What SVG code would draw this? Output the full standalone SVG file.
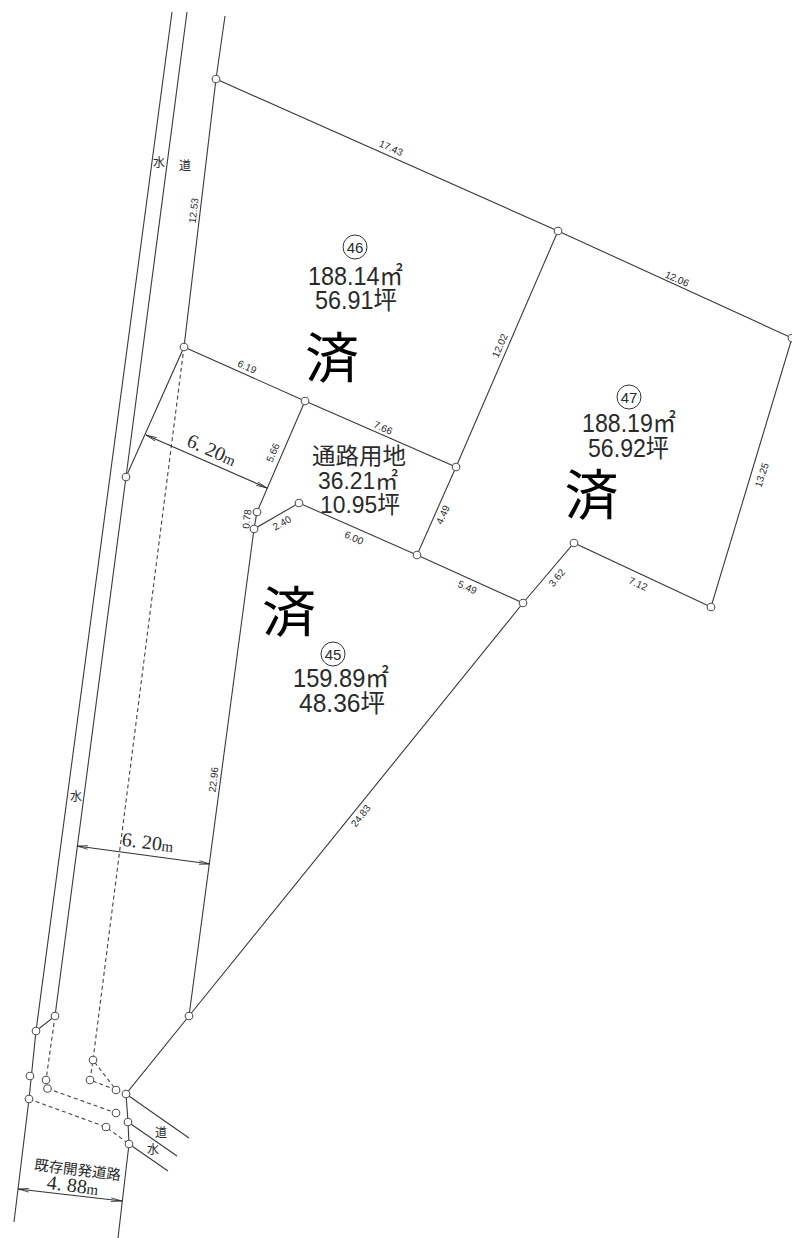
<svg xmlns="http://www.w3.org/2000/svg" width="792" height="1238" viewBox="0 0 792 1238">
<style>
.l{fill:none;stroke:#3a3a3a;stroke-width:1.1}
.d{fill:none;stroke:#444;stroke-width:1.1;stroke-dasharray:4 3}
.a{fill:none;stroke:#333;stroke-width:1.1;marker-start:url(#as);marker-end:url(#ae)}
.n{fill:#fff;stroke:#555;stroke-width:1.1}
.o{fill:none;stroke:#333;stroke-width:1}
text{font-family:"Liberation Sans","Noto Sans CJK JP",sans-serif;fill:#2a2a2a;text-anchor:middle}
.s{font-size:10px}
.k{font-size:12px;font-family:"Noto Sans CJK JP",sans-serif}
.b{font-size:25px}
.c{font-size:15px}
.r{font-size:23px;font-family:"Noto Sans CJK JP",sans-serif}
.z{font-size:54px;font-family:"Noto Sans CJK JP",sans-serif;fill:#000}
.m{font-size:20px;font-family:"Liberation Serif","Noto Sans CJK JP",serif}
.t{font-size:15px}
.j{font-size:14.5px;font-family:"Noto Sans CJK JP",serif}
</style>
<defs>
<marker id="ae" markerWidth="12" markerHeight="6" refX="11" refY="3" orient="auto" markerUnits="userSpaceOnUse"><path d="M0 1.2L11 3L0 4.8" fill="none" stroke="#333" stroke-width="0.8"/></marker>
<marker id="as" markerWidth="12" markerHeight="6" refX="1" refY="3" orient="auto" markerUnits="userSpaceOnUse"><path d="M12 1.2L1 3L12 4.8" fill="none" stroke="#333" stroke-width="0.8"/></marker>
</defs>
<rect width="792" height="1238" fill="#fff"/>
<g id="connectors">
<path class="l" d="M172 12L36 1031L29 1099L14 1222"/>
<path class="l" d="M187 12L126 477L55 1016L36 1031"/>
<path class="l" d="M225 16L216 79L184 347L126 477"/>
<path class="l" d="M216 79L558 231L792 338L711 607L574 543L523 603L189 1016L126 1094L128 1122L129 1144L118 1238"/>
<path class="l" d="M184 347L305 401L456 467L558 231"/>
<path class="l" d="M305 401L257 512L254 529L299 503L417 555L523 603"/>
<path class="l" d="M456 467L417 555"/>
<path class="l" d="M254 529L189 1016"/>
<path class="l" d="M126 1094L189 1138M128 1122L177 1156M129 1144L168 1171"/>
<path class="d" d="M184 347L93 1060L90 1080L116 1090L93 1060"/>
<path class="d" d="M55 1016L46 1080M47.500 1088.500L116 1113M29 1099L106 1127L129 1144"/>
<path class="a" d="M146 435L267 488"/>
<path class="a" d="M77 846L210 864"/>
<path class="a" d="M18 1189L122 1201"/>
</g>
<g id="nodes">
<circle class="n" cx="216" cy="79" r="3.800"/>
<circle class="n" cx="558" cy="231" r="3.800"/>
<circle class="n" cx="792" cy="338" r="3.800"/>
<circle class="n" cx="184" cy="347" r="3.800"/>
<circle class="n" cx="305" cy="401" r="3.800"/>
<circle class="n" cx="456" cy="467" r="3.800"/>
<circle class="n" cx="126" cy="477" r="3.800"/>
<circle class="n" cx="257" cy="512" r="3.800"/>
<circle class="n" cx="254" cy="529" r="3.800"/>
<circle class="n" cx="299" cy="503" r="3.800"/>
<circle class="n" cx="417" cy="555" r="3.800"/>
<circle class="n" cx="523" cy="603" r="3.800"/>
<circle class="n" cx="574" cy="543" r="3.800"/>
<circle class="n" cx="711" cy="607" r="3.800"/>
<circle class="n" cx="189" cy="1016" r="3.800"/>
<circle class="n" cx="55" cy="1016" r="3.800"/>
<circle class="n" cx="36" cy="1031" r="3.800"/>
<circle class="n" cx="30" cy="1076" r="3.800"/>
<circle class="n" cx="46" cy="1080" r="3.800"/>
<circle class="n" cx="47.500" cy="1088.500" r="3.800"/>
<circle class="n" cx="29" cy="1099" r="3.800"/>
<circle class="n" cx="93" cy="1060" r="3.800"/>
<circle class="n" cx="90" cy="1080" r="3.800"/>
<circle class="n" cx="116" cy="1090" r="3.800"/>
<circle class="n" cx="126" cy="1094" r="3.800"/>
<circle class="n" cx="116" cy="1113" r="3.800"/>
<circle class="n" cx="128" cy="1122" r="3.800"/>
<circle class="n" cx="106" cy="1127" r="3.800"/>
<circle class="n" cx="129" cy="1144" r="3.800"/>
</g>
<g id="lot46">
<circle class="o" cx="355" cy="247" r="12"/>
<text class="c" x="355" y="252.500">46</text>
<text class="b" x="355.500" y="285" textLength="95" lengthAdjust="spacingAndGlyphs">188.14㎡</text>
<text class="b" x="356" y="309" textLength="82" lengthAdjust="spacingAndGlyphs">56.91坪</text>
<text class="z" x="332" y="378">済</text>
</g>
<g id="lot47">
<circle class="o" cx="629" cy="397" r="12"/>
<text class="c" x="629" y="402.500">47</text>
<text class="b" x="629" y="432" textLength="94" lengthAdjust="spacingAndGlyphs">188.19㎡</text>
<text class="b" x="628.500" y="457" textLength="81" lengthAdjust="spacingAndGlyphs">56.92坪</text>
<text class="z" x="591.500" y="514.500">済</text>
</g>
<g id="lot45">
<circle class="o" cx="333" cy="654" r="12"/>
<text class="c" x="333" y="659.500">45</text>
<text class="b" x="341" y="687" textLength="96" lengthAdjust="spacingAndGlyphs">159.89㎡</text>
<text class="b" x="342" y="712" textLength="86" lengthAdjust="spacingAndGlyphs">48.36坪</text>
<text class="z" x="289" y="632">済</text>
</g>
<g id="road">
<text class="r" x="359" y="464" textLength="94" lengthAdjust="spacingAndGlyphs">通路用地</text>
<text class="b" x="358" y="488.500" textLength="80" lengthAdjust="spacingAndGlyphs" style="font-size:23px">36.21㎡</text>
<text class="b" x="360" y="512.500" textLength="80" lengthAdjust="spacingAndGlyphs" style="font-size:24px">10.95坪</text>
</g>
<g id="labels">
<text class="s" transform="translate(389.600,151.200) rotate(24)">17.43</text>
<text class="s" transform="translate(675.600,282) rotate(24)">12.06</text>
<text class="s" transform="translate(197,211) rotate(-83)">12.53</text>
<text class="s" transform="translate(245.600,370) rotate(24)">6.19</text>
<text class="s" transform="translate(381.600,431) rotate(24)">7.66</text>
<text class="s" transform="translate(503,347) rotate(-66)">12.02</text>
<text class="s" transform="translate(276,454) rotate(-67)">5.66</text>
<text class="s" transform="translate(250.200,519.400) rotate(-84)">0.78</text>
<text class="s" transform="translate(283.600,526) rotate(-30)">2.40</text>
<text class="s" transform="translate(352.600,541) rotate(24)">6.00</text>
<text class="s" transform="translate(446,516) rotate(-66)">4.49</text>
<text class="s" transform="translate(466,590.500) rotate(24)">5.49</text>
<text class="s" transform="translate(559.500,580) rotate(-50)">3.62</text>
<text class="s" transform="translate(636.600,587) rotate(24)">7.12</text>
<text class="s" transform="translate(765,476) rotate(-72)">13.25</text>
<text class="s" transform="translate(217,780) rotate(-83)">22.96</text>
<text class="s" transform="translate(363.500,818) rotate(-52)">24.83</text>
<text class="k" x="159" y="167">水</text>
<text class="k" x="185" y="170">道</text>
<text class="k" x="76" y="801">水</text>
<text class="k" x="161" y="1137">道</text>
<text class="k" x="153" y="1154">水</text>
<text class="m" transform="translate(209,456) rotate(24)">6. 20<tspan class="t">m</tspan></text>
<text class="m" transform="translate(147,849) rotate(7)">6. 20<tspan class="t">m</tspan></text>
<text class="j" transform="translate(77,1175) rotate(7)">既存開発道路</text>
<text class="m" transform="translate(72,1192) rotate(7)">4. 88<tspan class="t">m</tspan></text>
</g>
</svg>
